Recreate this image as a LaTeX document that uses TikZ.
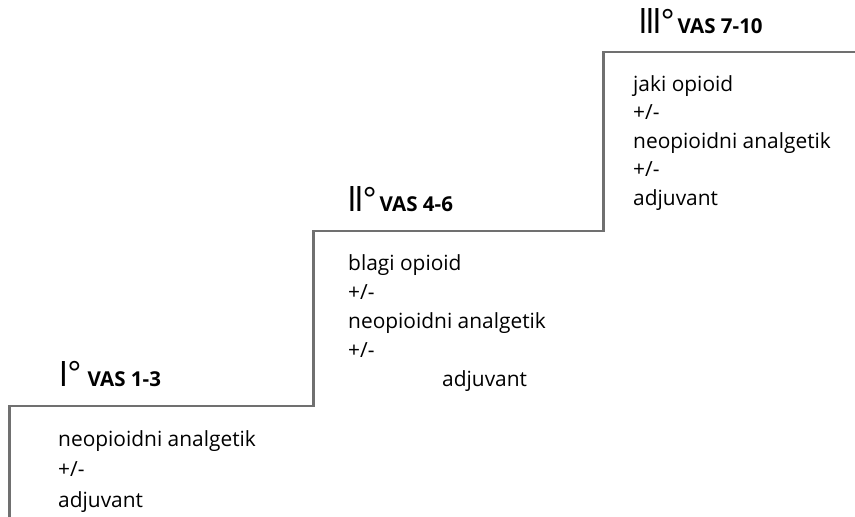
\documentclass[tikz,border=0pt]{standalone}
\usepackage{fontspec}
\setmainfont{Open Sans}
\definecolor{stairgray}{RGB}{112,112,112}
\newcommand{\degmark}{\kern-0.8pt\raisebox{1.5pt}{\fontsize{32}{32}\selectfont°}}
\newcommand{\tightI}{I\kern-2.75pt\relax}
\tikzset{
  stair/.style={draw=stairgray, line width=2.6pt, line cap=butt, line join=miter},
  roman/.style={anchor=base west, inner sep=0pt, font=\fontsize{35}{35}\selectfont},
  vas/.style={anchor=base west, inner sep=0pt, font=\fontsize{20.5}{20.5}\selectfont\bfseries},
  body/.style={anchor=base west, inner sep=0pt},
}
\begin{document}
\begin{tikzpicture}[x=1pt,y=-1pt]
\useasboundingbox (0,0) rectangle (855,517);
% staircase
\coordinate (s0) at (9.5,517);
\coordinate (s1) at (9.5,406);
\coordinate (s2) at (313.5,406);
\coordinate (s3) at (313.5,231);
\coordinate (s4) at (603.5,231);
\coordinate (s5) at (603.5,52);
\coordinate (s6) at (855,52);
\draw[stair] (s0) -- (s1) -- (s2) -- (s3) -- (s4) -- (s5) -- (s6);
% step I
\node[roman] (r1) at (58.5,386) {I\degmark};
\node[vas] (v1) at (87.5,386) {VAS 1-3};
\node[body] (b1) at (58,446) {\fontsize{20.9}{30.5}\selectfont
  \begin{tabular}[t]{@{}l@{}}neopioidni analgetik\\ +/-\\ adjuvant\end{tabular}};
% step II
\node[roman] (r2) at (346.8,211.5) {\tightI I\degmark};
\node[vas] (v2) at (379.5,211.5) {VAS 4-6};
\node[body] (b2) at (348,270) {\fontsize{20.9}{29}\selectfont
  \begin{tabular}[t]{@{}l@{}}blagi opioid\\ +/-\\ neopioidni analgetik\\ +/-\\ \hspace*{94pt}adjuvant\end{tabular}};
% step III
\node[roman] (r3) at (637.8,33.5) {\tightI\tightI I\degmark};
\node[vas] (v3) at (677.5,33.5) {VAS 7-10};
\node[body] (b3) at (633,91.5) {\fontsize{20.9}{28.4}\selectfont
  \begin{tabular}[t]{@{}l@{}}jaki opioid\\ +/-\\ neopioidni analgetik\\ +/-\\ adjuvant\end{tabular}};
\end{tikzpicture}
\end{document}
